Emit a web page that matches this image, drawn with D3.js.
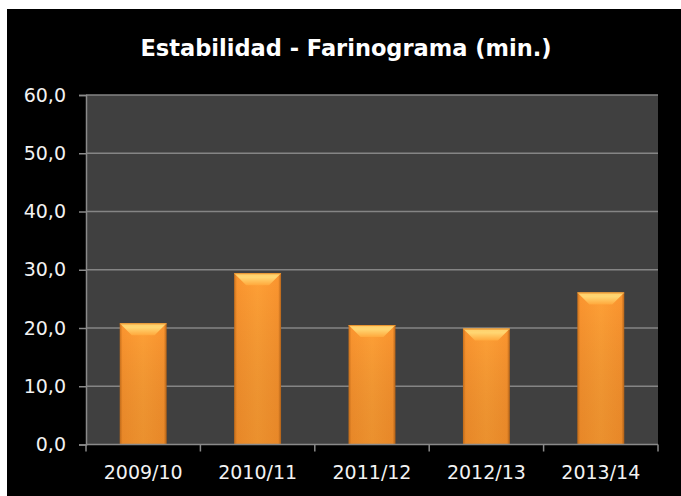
<!DOCTYPE html>
<html lang="es">
<head>
  <meta charset="UTF-8">
  <title>Estabilidad - Farinograma</title>
  <script src="https://d3js.org/d3.v7.min.js"></script>
  <style>
    body { margin: 0; background: #fff; }
    svg { display: block; }
    text { font-family: "DejaVu Sans", sans-serif; }
  </style>
</head>
<body>
  <div id="chart"></div>
  <script>
    const campaigns = ["2009/10", "2010/11", "2011/12", "2012/13", "2013/14"];
    const stability = [20.8, 29.4, 20.5, 19.9, 26.1];
    const yTicks = [0, 10, 20, 30, 40, 50, 60];
    const title = "Estabilidad - Farinograma (min.)";

    const width = 681, height = 496;
    const plot = { left: 86, right: 658, top: 95, bottom: 444.5 };

    const svg = d3.select("#chart").append("svg")
        .attr("width", width)
        .attr("height", height);

    const defs = svg.append("defs");

    // horizontal shading: darker sides, bright middle
    const side = defs.append("linearGradient").attr("id", "barSide")
        .attr("x1", 0).attr("x2", 1).attr("y1", 0).attr("y2", 0);
    side.append("stop").attr("offset", "0%").attr("stop-color", "#cc721c");
    side.append("stop").attr("offset", "6%").attr("stop-color", "#fb952f");
    side.append("stop").attr("offset", "50%").attr("stop-color", "#ffa036");
    side.append("stop").attr("offset", "94%").attr("stop-color", "#fb952f");
    side.append("stop").attr("offset", "100%").attr("stop-color", "#b8661a");

    // darker towards the bottom
    const shade = defs.append("linearGradient").attr("id", "barShade")
        .attr("x1", 0).attr("x2", 0).attr("y1", 0).attr("y2", 1);
    shade.append("stop").attr("offset", "0%").attr("stop-color", "#000").attr("stop-opacity", 0);
    shade.append("stop").attr("offset", "100%").attr("stop-color", "#7a3a00").attr("stop-opacity", 0.15);

    // top bevel
    const bevel = defs.append("linearGradient").attr("id", "barBevel")
        .attr("x1", 0).attr("x2", 0).attr("y1", 0).attr("y2", 1);
    bevel.append("stop").attr("offset", "0%").attr("stop-color", "#ffcf6a");
    bevel.append("stop").attr("offset", "35%").attr("stop-color", "#ffd672");
    bevel.append("stop").attr("offset", "100%").attr("stop-color", "#ffa83c");

    // black panel
    svg.append("rect")
        .attr("x", 7).attr("y", 9)
        .attr("width", width - 7).attr("height", height - 9)
        .attr("fill", "#000");

    const x = d3.scaleBand()
        .domain(campaigns)
        .range([plot.left, plot.right])
        .padding(0);

    const y = d3.scaleLinear()
        .domain([0, 60])
        .range([plot.bottom, plot.top]);

    svg.append("rect")
        .attr("x", plot.left).attr("y", plot.top)
        .attr("width", plot.right - plot.left)
        .attr("height", plot.bottom - plot.top)
        .attr("fill", "#404040");

    // gridlines
    svg.append("g")
      .selectAll("line")
      .data(yTicks.filter(d => d > 0))
      .join("line")
        .attr("x1", plot.left).attr("x2", plot.right)
        .attr("y1", d => y(d)).attr("y2", d => y(d))
        .attr("stroke", "#858585")
        .attr("stroke-width", 1.5);

    // bars
    const barW = x.bandwidth() * 0.41;
    const bars = svg.append("g")
      .selectAll("g")
      .data(campaigns.map((c, i) => ({ c, v: stability[i] })))
      .join("g")
        .attr("transform", d => `translate(${x(d.c) + (x.bandwidth() - barW) / 2},${y(d.v)})`);

    bars.append("rect")
        .attr("width", barW)
        .attr("height", d => plot.bottom - y(d.v))
        .attr("fill", "url(#barSide)");
    bars.append("rect")
        .attr("width", barW)
        .attr("height", d => plot.bottom - y(d.v))
        .attr("fill", "url(#barShade)");
    bars.append("path")
        .attr("d", `M0,0H${barW}L${barW - 12},12H12Z`)
        .attr("fill", "url(#barBevel)");
    bars.append("line")
        .attr("x1", 0).attr("x2", barW)
        .attr("y1", 0.5).attr("y2", 0.5)
        .attr("stroke", "#e8902c")
        .attr("stroke-width", 1);

    // y axis
    const yAxis = d3.axisLeft(y)
        .tickValues(yTicks)
        .tickSize(7)
        .tickPadding(13)
        .tickFormat(d => d3.format(".1f")(d).replace(".", ","));

    const gy = svg.append("g")
        .attr("transform", `translate(${plot.left},0)`)
        .call(yAxis);
    gy.select(".domain").attr("stroke", "#8a8a8a").attr("stroke-width", 1.5);
    gy.selectAll(".tick line").attr("stroke", "#8a8a8a").attr("stroke-width", 1.5);
    gy.selectAll(".tick text")
        .attr("fill", "#f2f2f2")
        .attr("font-size", 19)
        .attr("font-family", "'DejaVu Sans', sans-serif");

    // x axis: ticks at category boundaries
    svg.append("line")
        .attr("x1", plot.left).attr("x2", plot.right)
        .attr("y1", plot.bottom).attr("y2", plot.bottom)
        .attr("stroke", "#8a8a8a").attr("stroke-width", 1.5);

    const bounds = campaigns.map(c => x(c)).concat([x(campaigns[campaigns.length - 1]) + x.bandwidth()]);
    svg.append("g")
      .selectAll("line")
      .data(bounds)
      .join("line")
        .attr("x1", d => d).attr("x2", d => d)
        .attr("y1", plot.bottom).attr("y2", plot.bottom + 7)
        .attr("stroke", "#8a8a8a").attr("stroke-width", 1.5);

    svg.append("g")
      .selectAll("text")
      .data(campaigns)
      .join("text")
        .attr("x", d => x(d) + x.bandwidth() / 2)
        .attr("y", 479)
        .attr("text-anchor", "middle")
        .attr("fill", "#f2f2f2")
        .attr("font-size", 19)
        .text(d => d);

    // title
    svg.append("text")
        .attr("x", 346)
        .attr("y", 56)
        .attr("text-anchor", "middle")
        .attr("fill", "#fff")
        .attr("font-size", 22.5)
        .attr("font-weight", "bold")
        .text(title);
  </script>
</body>
</html>
